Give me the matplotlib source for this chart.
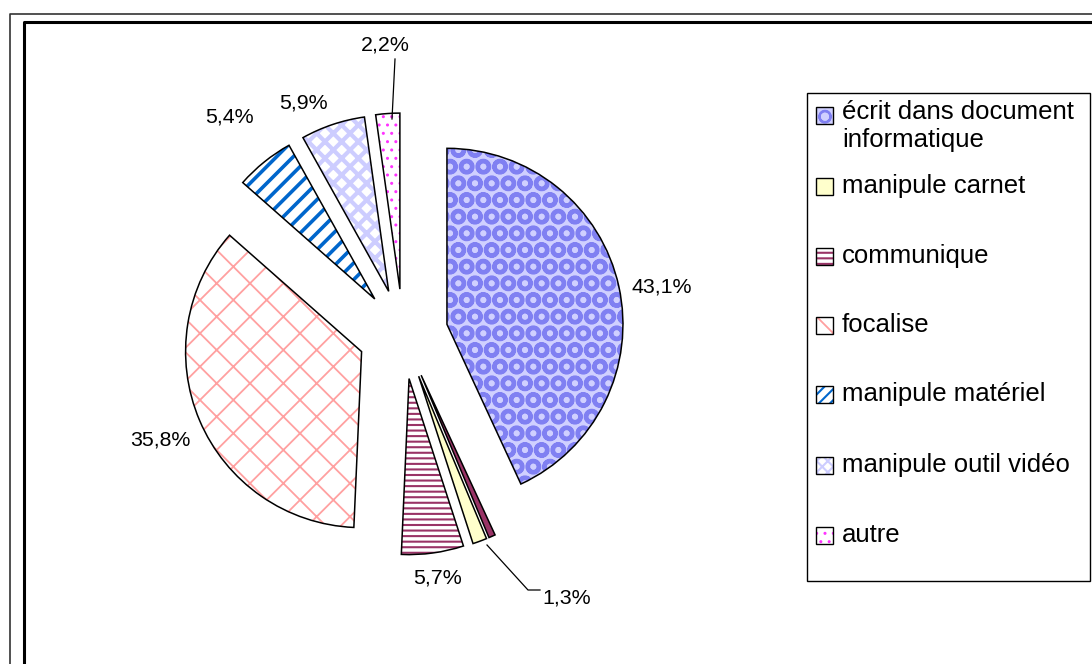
import matplotlib.pyplot as plt
from matplotlib.patches import Rectangle

plt.rcParams['font.family'] = ['Liberation Sans', 'DejaVu Sans']

# slices, clockwise from 12 o'clock (one small unnamed slice has no legend entry)
categories = ["écrit dans document\ninformatique", None, "manipule carnet", "communique",
              "focalise", "manipule matériel", "manipule outil vidéo", "autre"]
values = [43.1, 0.6, 1.3, 5.7, 35.8, 5.4, 5.9, 2.2]
shown_pct = [True, False, True, True, True, True, True, True]

# facecolor, hatch, hatch colour, hatch width
styles = [
    ('#d0d0ff', 'O', '#8080f2', 3.0),
    ('#993366', None, '#993366', 1.0),
    ('#ffffcc', None, '#ffffcc', 1.0),
    ('white', '---', '#993366', 1.5),
    ('white', 'x', '#ffa0a0', 1.3),
    ('white', '//', '#0066cc', 2.6),
    ('white', 'xx', '#cdcdff', 3.0),
    ('white', '..', '#ff33ff', 1.0),
]

# percent label positions (pixels, from top-left)
pct_pos = [(662, 287), None, (567, 598), (438, 578), (160, 440), (229, 117), (303, 103), (385, 45)]

W, H = 1092, 664
fig = plt.figure(figsize=(W / 100, H / 100), dpi=100)
ax = fig.add_axes([0, 0, 1, 1])

cx, cy, r, expl = 403, H - 334, 176, 45

wedges, _ = ax.pie(values, center=(cx, cy), radius=r, startangle=90, counterclock=False,
                   explode=[expl] * len(values), wedgeprops=dict(linewidth=0))
for w, (fc, hatch, hc, hlw) in zip(wedges, styles):
    w.set_facecolor(fc)
    w.set_edgecolor(hc)
    w.set_linewidth(0)
    if hatch:
        w.set_hatch(hatch)
        if hasattr(w, 'set_hatch_linewidth'):
            w.set_hatch_linewidth(hlw)
ax.pie(values, center=(cx, cy), radius=r, startangle=90, counterclock=False,
       explode=[expl] * len(values),
       wedgeprops=dict(fill=False, edgecolor='black', linewidth=1.1))

for v, show, pos in zip(values, shown_pct, pct_pos):
    if show:
        ax.text(pos[0], H - pos[1], f"{v:.1f}%".replace('.', ','), ha='center', va='center',
                fontsize=15.4)

# leader lines
ax.plot([395, 392], [H - 59, H - 119], color='black', lw=0.9)
ax.plot([487, 528, 540], [H - 545, H - 590, H - 590], color='black', lw=0.9)

# legend drawn by hand to keep Excel spacing
ax.add_patch(Rectangle((807, H - 581), 283, 488, fill=False, edgecolor='black', lw=1.0))
legend_y = [115, 186, 256, 325, 394, 465, 535]
idx = [i for i, c in enumerate(categories) if c is not None]
for ly, i in zip(legend_y, idx):
    fc, hatch, hc, hlw = styles[i]
    p = Rectangle((816, H - ly - 8.5), 17, 17, facecolor=fc, edgecolor=hc, lw=0,
                  hatch=hatch.replace('//', '///').replace('xx', 'xxx') if hatch else None)
    if hatch and hasattr(p, 'set_hatch_linewidth'):
        p.set_hatch_linewidth(min(hlw, 1.5))
    ax.add_patch(p)
    ax.add_patch(Rectangle((816, H - ly - 8.5), 17, 17, fill=False, edgecolor='black', lw=1.0))
    if '\n' in categories[i]:
        ax.text(842, H - ly + 15, categories[i], ha='left', va='top', fontsize=18.5,
                linespacing=1.2)
    else:
        ax.text(842, H - ly, categories[i], ha='left', va='center', fontsize=18.5)

# chart frame
ax.plot([10, 10, W + 5], [-5, H - 14, H - 14], color='#333333', lw=1.2)
ax.plot([23.5, 23.5, W + 5], [-5, H - 21.5, H - 21.5], color='black', lw=2.2)

ax.set_xlim(0, W)
ax.set_ylim(0, H)
ax.set_aspect('auto')
ax.axis('off')

fig.savefig('out.png', dpi=100)
